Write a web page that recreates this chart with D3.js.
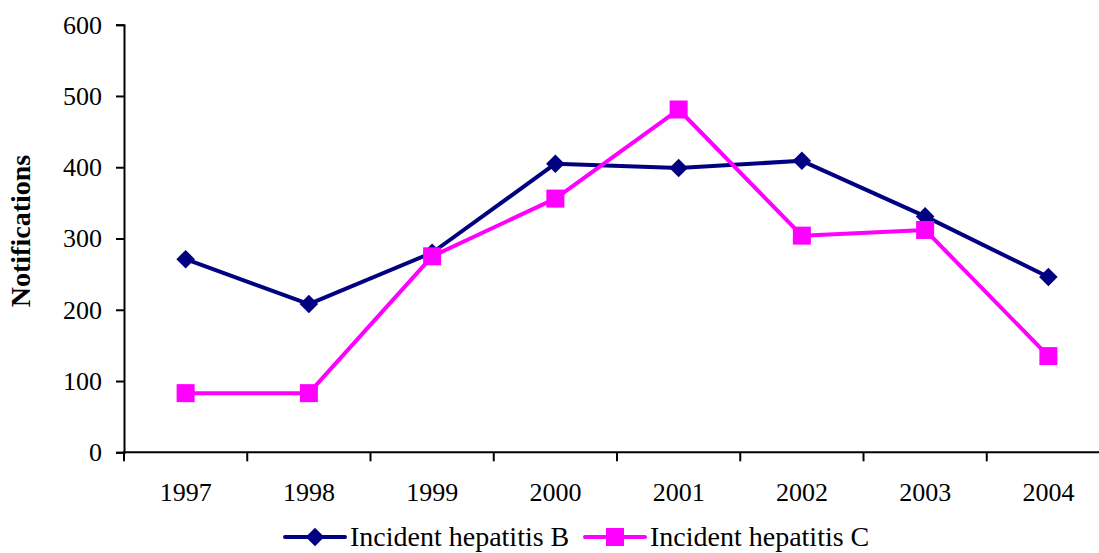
<!DOCTYPE html>
<html><head><meta charset="utf-8">
<script src="https://cdn.jsdelivr.net/npm/d3@7"></script>
<style>
html,body{margin:0;padding:0;background:#fff;}
svg text{font-family:"Liberation Serif","Times New Roman",serif;fill:#000;}
</style></head>
<body><svg id="c" width="1099" height="553"></svg>
<script>
const years = ["1997","1998","1999","2000","2001","2002","2003","2004"];
const hepB = [271, 208, 280, 405, 399, 409, 331, 246];
const hepC = [83, 83, 275, 356, 481, 304, 312, 135];
const yTicks = [0, 100, 200, 300, 400, 500, 600];
const seriesNames = ["Incident hepatitis B", "Incident hepatitis C"];
const seriesColors = ["#000080", "#FF00FF"];

const svg = d3.select("#c");
const x = d3.scaleBand().domain(years).range([124, 1110]).padding(0);
const y = d3.scaleLinear().domain([0, 600]).range([452.3, 24.7]);

// Y axis
const yAxis = svg.append("g").attr("transform", "translate(124,0)")
  .call(d3.axisLeft(y).tickValues(yTicks).tickSize(8).tickPadding(14).tickFormat(d3.format("d")));
yAxis.attr("font-family", null);
yAxis.select(".domain").attr("stroke", "#000").attr("stroke-width", 2);
yAxis.selectAll(".tick line").attr("stroke", "#000").attr("stroke-width", 2);
yAxis.selectAll("text").attr("font-size", 26);

// X axis with ticks at band boundaries
const xg = svg.append("g").attr("transform", "translate(0,452.3)");
xg.append("line").attr("x1", 123).attr("x2", 1110).attr("y1", 0).attr("y2", 0)
  .attr("stroke", "#000").attr("stroke-width", 2);
const bounds = years.map(d => x(d)).concat([x(years[years.length-1]) + x.bandwidth()]);
xg.selectAll("line.t").data(bounds).enter().append("line").attr("class", "t")
  .attr("x1", d => d).attr("x2", d => d).attr("y1", 0).attr("y2", 9)
  .attr("stroke", "#000").attr("stroke-width", 2);
xg.selectAll("text").data(years).enter().append("text")
  .attr("x", d => x(d) + x.bandwidth()/2).attr("y", 49)
  .attr("text-anchor", "middle").attr("font-size", 26).text(d => d);

// Y label
svg.append("text").attr("transform", "translate(30,231) rotate(-90)")
  .attr("text-anchor", "middle").attr("font-size", 28).attr("font-weight", "bold")
  .text("Notifications");

const cx = d => x(d) + x.bandwidth()/2;
const line = d3.line().x(d => cx(d.year)).y(d => y(d.v));
const dataB = years.map((yr, i) => ({year: yr, v: hepB[i]}));
const dataC = years.map((yr, i) => ({year: yr, v: hepC[i]}));

svg.append("path").datum(dataB).attr("d", line).attr("fill", "none")
  .attr("stroke", seriesColors[0]).attr("stroke-width", 4).attr("stroke-linejoin", "round");
svg.append("path").datum(dataC).attr("d", line).attr("fill", "none")
  .attr("stroke", seriesColors[1]).attr("stroke-width", 4).attr("stroke-linejoin", "round");

const diamond = d3.symbol().type(d3.symbolDiamond2).size(220);
svg.selectAll("path.mb").data(dataB).enter().append("path").attr("class", "mb")
  .attr("d", diamond).attr("transform", d => `translate(${cx(d.year)},${y(d.v)})`)
  .attr("fill", seriesColors[0]);
svg.selectAll("rect.mc").data(dataC).enter().append("rect").attr("class", "mc")
  .attr("x", d => cx(d.year) - 9).attr("y", d => y(d.v) - 9).attr("width", 18).attr("height", 18)
  .attr("fill", seriesColors[1]);

// Legend
const lg = svg.append("g");
const legendX = [285, 585];
seriesNames.forEach((name, i) => {
  const g = lg.append("g").attr("transform", `translate(${legendX[i]},537)`);
  g.append("line").attr("x1", 0).attr("x2", 60).attr("y1", 0).attr("y2", 0)
    .attr("stroke", seriesColors[i]).attr("stroke-width", 4).attr("stroke-linecap", "round");
  if (i === 0) {
    g.append("path").attr("d", diamond).attr("transform", "translate(30,0)")
      .attr("fill", seriesColors[i]);
  } else {
    g.append("rect").attr("x", 21).attr("y", -9).attr("width", 18).attr("height", 18).attr("fill", seriesColors[i]);
  }
  g.append("text").attr("x", 65).attr("y", 9).attr("font-size", 28).text(name);
});
</script></body></html>
